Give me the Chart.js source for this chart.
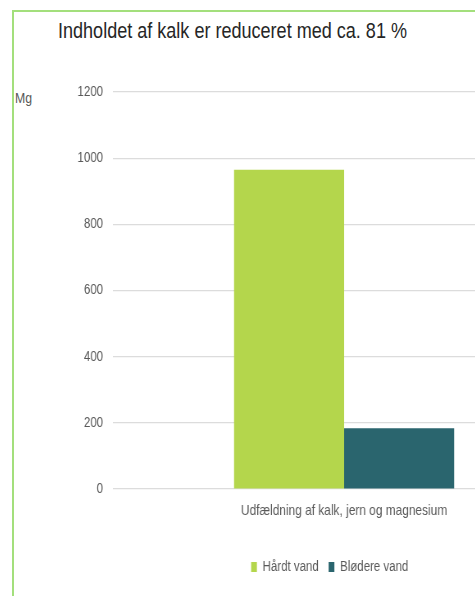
<!DOCTYPE html>
<html>
<head>
<meta charset="utf-8">
<script src="https://cdn.jsdelivr.net/npm/chart.js@4.4.1/dist/chart.umd.min.js"></script>
<style>
  html, body { margin: 0; padding: 0; background: #fff; }
  body { width: 475px; height: 596px; overflow: hidden; position: relative;
         font-family: 'Liberation Sans', Arial, sans-serif; }
  #frame { position: absolute; left: 12px; top: 10px; right: -10px; bottom: -10px;
           border-left: 2px solid #a3df7c; border-top: 2px solid #a3df7c; }
  /* the source chart uses a narrow face; squeeze the regular one */
  .narrow { transform: scaleX(0.82); transform-origin: 0 0; }
  #title { position: absolute; left: 58px; top: 18px; font-size: 22px; color: #262626; white-space: nowrap; }
  #unit { position: absolute; left: 15px; top: 89px; font-size: 15px; color: #595959; }
  #wrap { position: absolute; left: 12px; top: 60px; }
</style>
</head>
<body>
<div id="frame"></div>
<div id="title" class="narrow">Indholdet af kalk er reduceret med ca. 81 %</div>
<div id="unit" class="narrow">Mg</div>
<div id="wrap" class="narrow"><canvas id="chart" width="687" height="536"></canvas></div>
<script>
'use strict';

// ─── Data ────────────────────────────────────────────────────────────────
const categories  = ['Udfældning af kalk, jern og magnesium'];
const seriesNames = ['Hårdt vand', 'Blødere vand'];
const hardWater   = [965];
const softWater   = [184];
const yTicks      = [0, 200, 400, 600, 800, 1000, 1200];

const GREEN = '#b4d64c';
const TEAL  = '#2a656e';
const GREY  = '#595959';

// legend in the source sits right of the plot centre
const legendShift = {
  id: 'legendShift',
  afterLayout(chart) {
    const lg = chart.legend;
    if (!lg) return;
    lg.left += 44;
    lg.right += 44;
  },
};

new Chart(document.getElementById('chart'), {
  type: 'bar',
  data: {
    labels: categories,
    datasets: [
      { label: seriesNames[0], data: hardWater, backgroundColor: GREEN },
      { label: seriesNames[1], data: softWater, backgroundColor: TEAL },
    ],
  },
  plugins: [legendShift],
  options: {
    responsive: false,
    animation: false,
    categoryPercentage: 0.476,
    barPercentage: 1,
    layout: { padding: { top: 32, left: 0, right: 0, bottom: 12 } },
    plugins: {
      title: { display: false },
      tooltip: { enabled: false },
      legend: {
        position: 'bottom',
        labels: {
          color: GREY,
          font: { size: 14 },
          boxWidth: 7,
          boxHeight: 10,
          padding: 12,
        },
      },
    },
    scales: {
      y: {
        min: yTicks[0],
        max: yTicks[yTicks.length - 1],
        afterBuildTicks: axis => { axis.ticks = yTicks.map(v => ({ value: v })); },
        ticks: { color: GREY, font: { size: 14 }, padding: 12, callback: v => String(v) },
        grid: { color: '#dcdcdc', lineWidth: 1.2, drawTicks: false },
        border: { display: false },
        afterFit: axis => { axis.width = 123; },
      },
      x: {
        ticks: { color: GREY, font: { size: 14.5 }, padding: 13 },
        grid: { display: false, drawTicks: false },
        border: { display: false },
        afterFit: axis => { axis.height = 59; },
      },
    },
  },
});
</script>
</body>
</html>
